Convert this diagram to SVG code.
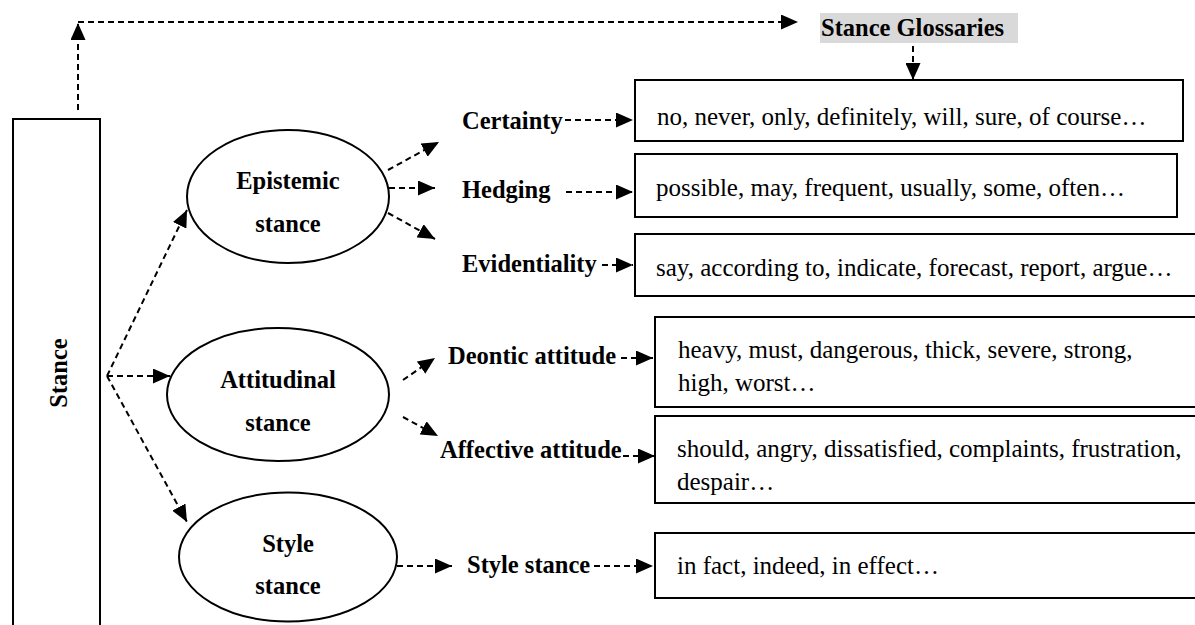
<svg xmlns="http://www.w3.org/2000/svg" width="1195" height="625" viewBox="0 0 1195 625">
<style>
.bg{fill:#fff}
.box{fill:#fff;stroke:#000;stroke-width:2}
.ell{fill:#fff;stroke:#000;stroke-width:2}
.lbl{font-family:"Liberation Serif","Times New Roman",serif;font-weight:bold;font-size:24.5px;fill:#000}
.txt{font-family:"Liberation Serif","Times New Roman",serif;font-size:25px;fill:#000}
.mid{text-anchor:middle}
.dash{fill:none;stroke:#000;stroke-width:2;stroke-dasharray:6 4;marker-end:url(#ah)}
</style>
<defs>
<marker id="ah" markerUnits="userSpaceOnUse" markerWidth="17" markerHeight="15" refX="17" refY="7.5" orient="auto" viewBox="0 0 17 15">
<path d="M0,0 L17,7.5 L0,15 z" fill="#000"/>
</marker>
</defs>
<rect class="bg" x="0" y="0" width="1195" height="625"/>

<g id="stance">
<rect class="box" x="13" y="119" width="87" height="530"/>
<text class="lbl mid" transform="translate(67,373) rotate(-90)">Stance</text>
</g>

<g id="glossaries">
<rect x="820" y="13" width="198" height="30" fill="#d9d9d9"/>
<text class="lbl" x="821" y="36">Stance Glossaries</text>
</g>

<g id="epistemic">
<ellipse class="ell" cx="288" cy="196.5" rx="101" ry="66.5"/>
<text class="lbl mid" x="288" y="189">Epistemic</text>
<text class="lbl mid" x="288" y="232">stance</text>
</g>

<g id="attitudinal">
<ellipse class="ell" cx="278" cy="394.5" rx="111" ry="66.5"/>
<text class="lbl mid" x="278" y="388">Attitudinal</text>
<text class="lbl mid" x="278" y="431">stance</text>
</g>

<g id="style">
<ellipse class="ell" cx="288" cy="557" rx="109" ry="64.5"/>
<text class="lbl mid" x="288" y="552">Style</text>
<text class="lbl mid" x="288" y="594">stance</text>
</g>

<g id="label-certainty"><text class="lbl" x="462" y="129">Certainty</text></g>
<g id="label-hedging"><text class="lbl" x="462" y="198">Hedging</text></g>
<g id="label-evidentiality"><text class="lbl" x="462" y="272">Evidentiality</text></g>
<g id="label-deontic"><text class="lbl" x="448" y="364">Deontic attitude</text></g>
<g id="label-affective"><text class="lbl" x="440" y="458">Affective attitude</text></g>
<g id="label-style"><text class="lbl" x="467" y="573">Style stance</text></g>

<g id="box-certainty">
<rect class="box" x="635" y="80" width="548" height="61"/>
<text class="txt" x="657" y="125">no, never, only, definitely, will, sure, of course…</text>
</g>
<g id="box-hedging">
<rect class="box" x="635" y="154" width="542" height="63"/>
<text class="txt" x="656" y="196">possible, may, frequent, usually, some, often…</text>
</g>
<g id="box-evidentiality">
<rect class="box" x="635" y="234" width="580" height="62"/>
<text class="txt" x="656" y="276">say, according to, indicate, forecast, report, argue…</text>
</g>
<g id="box-deontic">
<rect class="box" x="655" y="317" width="560" height="90"/>
<text class="txt" x="678" y="358">heavy, must, dangerous, thick, severe, strong,</text>
<text class="txt" x="678" y="391">high, worst…</text>
</g>
<g id="box-affective">
<rect class="box" x="655" y="416" width="560" height="87"/>
<text class="txt" x="677" y="457">should, angry, dissatisfied, complaints, frustration,</text>
<text class="txt" x="677" y="490">despair…</text>
</g>
<g id="box-style">
<rect class="box" x="655" y="533" width="560" height="65"/>
<text class="txt" x="677" y="574">in fact, indeed, in effect…</text>
</g>

<g id="connectors">
<path class="dash" d="M78,110 L78,23"/>
<path class="dash" d="M78,22 L798,22"/>
<path class="dash" d="M913,46 L913,80"/>
<path class="dash" d="M107,376 L187,210"/>
<path class="dash" d="M107,376 L170,376"/>
<path class="dash" d="M107,376 L187,522"/>
<path class="dash" d="M388,170 L439,142"/>
<path class="dash" d="M389,188 L435,188"/>
<path class="dash" d="M388,213 L435,239"/>
<path class="dash" d="M403,380 L435,358"/>
<path class="dash" d="M403,417 L438,436"/>
<path class="dash" d="M397,566 L452,566"/>
<path class="dash" d="M565,120 L633,120"/>
<path class="dash" d="M566,192 L633,192"/>
<path class="dash" d="M602,265 L633,265"/>
<path class="dash" d="M621,358 L653,358"/>
<path class="dash" d="M623,456 L655,456"/>
<path class="dash" d="M594,566 L653,566"/>
</g>
</svg>
